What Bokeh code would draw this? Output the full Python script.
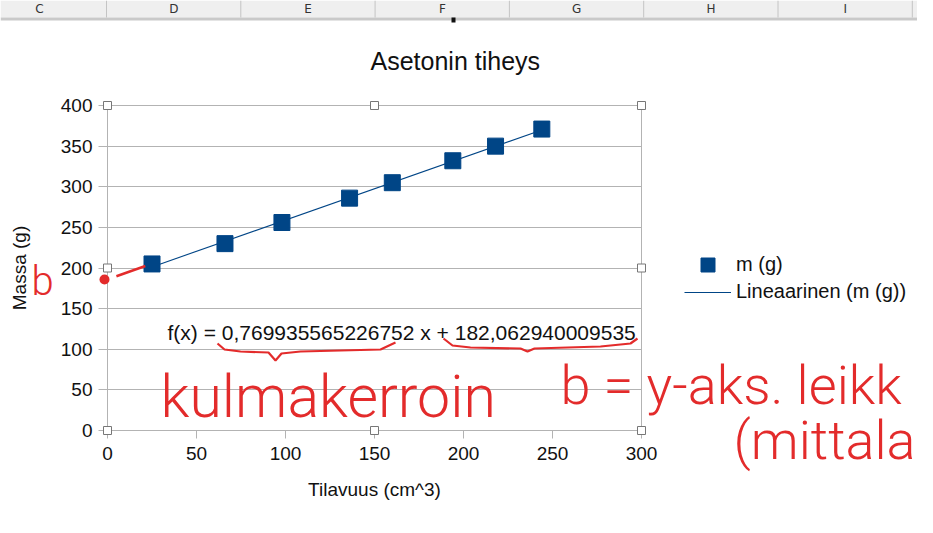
from bokeh.plotting import figure
from bokeh.layouts import column
from bokeh.models import Range1d, FixedTicker, Label, Legend, LegendItem
from bokeh.embed import file_html
from bokeh.resources import INLINE
from bokeh.core.properties import value

# ---------------- data ----------------
volume_cm3 = [25, 66, 98, 136, 160, 194, 218, 244]
mass_g = [205, 230, 256, 286, 305, 332, 350, 371]
slope = 0.769935565226752
intercept = 182.062940009535
x_ticks = [0, 50, 100, 150, 200, 250, 300]
y_ticks = [0, 50, 100, 150, 200, 250, 300, 350, 400]
title_text = "Asetonin tiheys"
x_title = "Tilavuus (cm^3)"
y_title = "Massa (g)"
series_label = "m (g)"
trend_label = "Lineaarinen (m (g))"
column_letters = ["C", "D", "E", "F", "G", "H", "I"]
note_b = "b"
note_slope = "kulmakerroin"
note_intercept = "b = y-aks. leikk"
note_unit = "(mittala"

# ---------------- layout ----------------
W, H = 917, 517
FL, FR, FT, FB = 107, 641, 105, 430
fw, fh = FR - FL, FB - FT
XMAX, YMAX = x_ticks[-1], y_ticks[-1]
FONT = "Liberation Sans"
BLUE = "#004586"
GRID = "#b3b3b3"
RED = "#e32b2b"
HAND = "Roboto Light"
INK = "#111111"
MARKER_SIZE = 16
TREND_WIDTH = 1.1
NAN = float("nan")

p = figure(width=W, height=H, output_backend="svg", toolbar_location=None,
           x_range=Range1d(0, XMAX), y_range=Range1d(0, YMAX),
           min_border_left=FL, min_border_right=W - FR,
           min_border_top=FT, min_border_bottom=H - FB,
           background_fill_color="white", border_fill_color="white",
           outline_line_color=GRID, outline_line_width=1)
p.frame_align = False

p.title.text = title_text
p.title.align = "left"
p.title.offset = 263
p.title.standoff = 61
p.title.text_font = FONT
p.title.text_font_size = "25px"
p.title.text_font_style = "normal"
p.title.text_color = INK

p.xaxis.ticker = FixedTicker(ticks=x_ticks)
p.yaxis.ticker = FixedTicker(ticks=y_ticks)
for ax in (p.xaxis[0], p.yaxis[0]):
    ax.axis_line_color = GRID
    ax.major_tick_line_color = GRID
    ax.minor_tick_line_color = None
    ax.major_tick_in = 0
    ax.major_tick_out = 8
    ax.major_label_text_font = FONT
    ax.major_label_text_font_size = "19px"
    ax.major_label_text_color = INK
    ax.axis_label_text_font = FONT
    ax.axis_label_text_font_size = "19px"
    ax.axis_label_text_font_style = "normal"
    ax.axis_label_text_color = INK
p.xaxis.axis_label = x_title
p.yaxis.axis_label = y_title
p.yaxis.major_tick_out = 9
p.yaxis.major_label_standoff = 6
p.yaxis.axis_label_standoff = 28
p.xaxis.major_label_standoff = 8
p.xaxis.axis_label_standoff = 16
p.xgrid.grid_line_color = None
p.ygrid.grid_line_color = GRID

# trend line and points
trend_x = [min(volume_cm3), max(volume_cm3)]
trend_y = [slope * v + intercept for v in trend_x]
p.line(trend_x, trend_y, line_color=BLUE, line_width=TREND_WIDTH)
p.scatter(volume_cm3, mass_g, marker="square", size=MARKER_SIZE,
          fill_color=BLUE, line_color=BLUE)

# hand-drawn extension of the trend line towards the intercept
ext_x = [0.2 * volume_cm3[0], 0.85 * volume_cm3[0]]
p.line(ext_x, [slope * v + intercept + 4 for v in ext_x], line_color=RED, line_width=2.5)

# equation
eq = "f(x) = %s x + %s" % (repr(slope).replace(".", ","), repr(intercept).replace(".", ","))
p.add_layout(Label(x=60, y=98, x_units="screen", y_units="screen", text=eq,
                   text_align="left", text_baseline="alphabetic",
                   text_font=FONT, text_font_size="21px", text_color=INK))

# ---------------- overlay in page pixels (legend, spreadsheet chrome, handles, ink) ----------------
q = figure(width=W, height=H, output_backend="svg", toolbar_location=None,
           x_range=Range1d(0, W), y_range=Range1d(H, 0),
           x_axis_type=None, y_axis_type=None, min_border=0,
           background_fill_color=None, border_fill_color=None, outline_line_color=None,
           styles={"position": "absolute", "left": "0px", "top": "0px"})
q.frame_align = False
q.title.visible = False

# legend keys styled exactly like the chart's series (no visible data of their own)
key_pts = q.scatter(x=[NAN], y=[NAN], marker="square", size=MARKER_SIZE,
                    fill_color=BLUE, line_color=BLUE)
key_line = q.line(x=[NAN, NAN], y=[NAN, NAN], line_color=BLUE, line_width=TREND_WIDTH)
leg_a = Legend(items=[LegendItem(label=series_label, renderers=[key_pts])],
               location=(684, 235), glyph_height=35, label_height=20)
leg_b = Legend(items=[LegendItem(label=trend_label, renderers=[key_line])],
               location=(684, 214), glyph_height=20, label_height=20)
for lg in (leg_a, leg_b):
    lg.glyph_width = 47
    lg.label_standoff = 5
    lg.padding = 0
    lg.margin = 0
    lg.spacing = 0
    lg.border_line_color = None
    lg.background_fill_alpha = 0
    lg.label_text_font = FONT
    lg.label_text_font_size = "20px"
    lg.label_text_color = INK
    q.add_layout(lg)

# column header strip
q.quad(left=[0], right=[W], top=[0], bottom=[17], fill_color="#efefef", line_color=None)
q.quad(left=[0], right=[W], top=[17], bottom=[20], fill_color="#c9c9c9", line_color=None)
col_w = 134.3
sep_x = [106 + col_w * i for i in range(len(column_letters))]
q.segment(x0=sep_x, y0=[0] * len(sep_x), x1=sep_x, y1=[17] * len(sep_x),
          line_color="#c4c4c4", line_width=1)
q.text(x=[39 + col_w * i for i in range(len(column_letters))], y=[8] * len(column_letters),
       text=column_letters, text_align="center", text_baseline="middle",
       text_font=value("DejaVu Sans"), text_font_size="12px", text_color="#333333")
q.quad(left=[451], right=[455], top=[17], bottom=[22], fill_color="#111111", line_color=None)

# selection handles at the chart frame corners / midpoints
hxs, hys = [], []
for hx in (0, XMAX / 2, XMAX):
    for hy in (0, YMAX / 2, YMAX):
        if hx == XMAX / 2 and hy == YMAX / 2:
            continue
        hxs.append(FL + hx * fw / XMAX)
        hys.append(FB - hy * fh / YMAX)
q.scatter(hxs, hys, marker="square", size=8, fill_color="white",
          line_color="#777777", line_width=1)

# red ink: intercept dot, braces, notes
q.scatter([104], [279], marker="circle", size=10, fill_color=RED, line_color=None)
brace1 = [(217, 343), (224, 349), (240, 351), (268, 352), (275, 360), (281, 353),
          (300, 351), (380, 349), (395, 342)]
brace2 = [(443, 338), (452, 345), (470, 347), (520, 348), (527, 351), (534, 348),
          (600, 346), (630, 343), (637, 338)]
for br in (brace1, brace2):
    q.line([a for a, b in br], [b for a, b in br], line_color=RED, line_width=2.2)

for txt, x, y, size in ((note_b, 31, 281, "40px"),
                        (note_slope, 160, 396, "59px"),
                        (note_intercept, 560, 385, "54px"),
                        (note_unit, 733, 440, "54px")):
    q.add_layout(Label(x=x, y=y, text=txt, text_align="left", text_baseline="alphabetic",
                       text_font=HAND, text_font_size=size, text_color=RED))

page = column(p, q, styles={"position": "relative"})
open("out.html", "w").write(file_html(page, INLINE))
